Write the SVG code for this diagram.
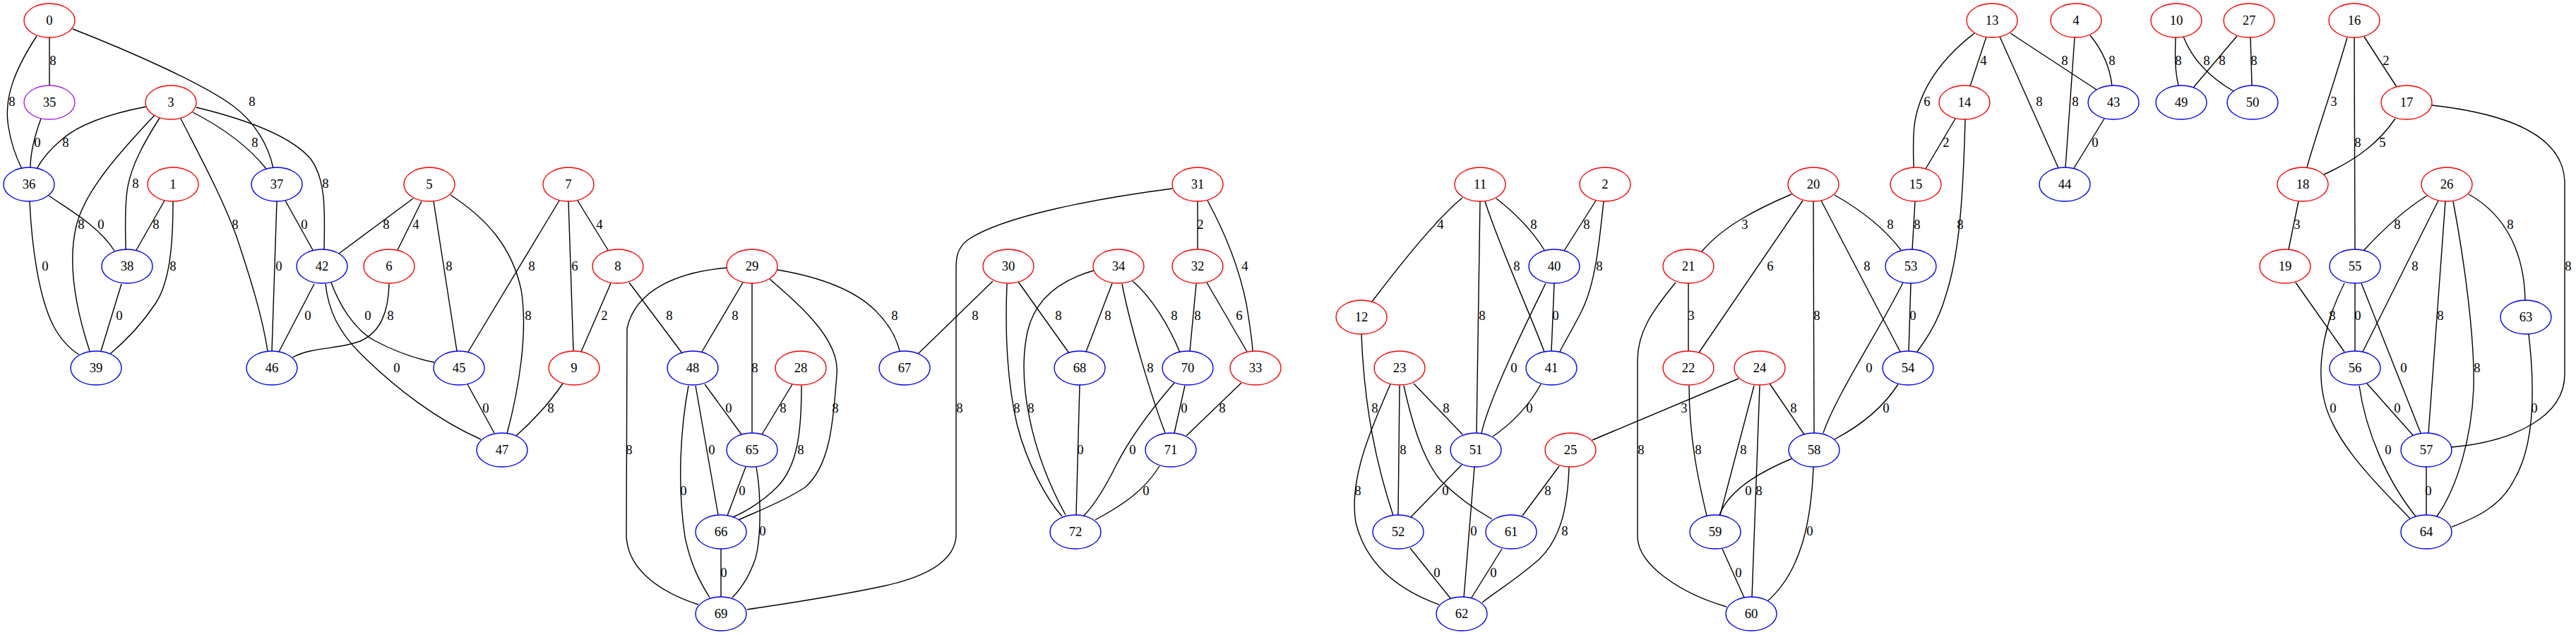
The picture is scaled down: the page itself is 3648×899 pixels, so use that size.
<svg xmlns="http://www.w3.org/2000/svg" width="3648" height="899" viewBox="0 0 3648 899">
<style>
.r{fill:none;stroke:#ff0000;stroke-width:1.4}
.b{fill:none;stroke:#0000ff;stroke-width:1.4}
.p{fill:none;stroke:#a020f0;stroke-width:1.4}
text{font-family:"Liberation Serif","Times New Roman",serif;font-size:18.67px;text-anchor:middle;fill:#000}
#edges path{fill:none;stroke:#000;stroke-width:1.4}
</style>
<rect width="3648" height="899" fill="#fff"/>
<g id="edges">
<path d="M70,53 L70,121"/>
<path d="M52,51 C20,100 5,140 12,180 C16,205 24,225 31,239"/>
<path d="M103,41 C190,75 290,120 330,150 C360,172 380,205 387,238"/>
<path d="M58,168 C50,190 43,215 43,237"/>
<path d="M207,151 C150,162 110,178 88,197 C70,212 58,228 52,239"/>
<path d="M219,163 C170,215 120,270 108,320 C96,370 105,430 127,497"/>
<path d="M226,167 C205,200 185,235 180,270 C176,300 178,330 178,354"/>
<path d="M256,168 C285,225 315,280 335,335 C355,395 372,450 379,497"/>
<path d="M273,159 C310,178 350,205 377,239"/>
<path d="M278,152 C340,167 410,190 440,225 C462,255 460,300 459,353"/>
<path d="M69,277 C95,295 140,320 162,355"/>
<path d="M42,285 C45,350 55,420 75,460 C85,480 100,495 112,502"/>
<path d="M233,284 L193,354"/>
<path d="M245,285 C245,350 240,400 220,430 C200,460 175,485 156,501"/>
<path d="M172,402 L143,497"/>
<path d="M392,285 L385,497"/>
<path d="M404,284 L443,354"/>
<path d="M585,281 L480,359"/>
<path d="M597,285 L563,354"/>
<path d="M445,402 L395,498"/>
<path d="M469,400 C480,430 500,465 530,482 C560,498 590,508 615,513"/>
<path d="M461,402 C465,440 480,470 510,500 C560,550 620,595 681,622"/>
<path d="M551,402 C550,440 540,470 510,483 C480,495 445,490 414,506"/>
<path d="M614,285 L647,497"/>
<path d="M638,276 C690,310 725,350 738,410 C748,470 735,550 718,614"/>
<path d="M792,284 L663,498"/>
<path d="M805,285 L812,497"/>
<path d="M818,284 L861,354"/>
<path d="M865,401 L823,498"/>
<path d="M891,400 L966,500"/>
<path d="M662,544 L700,613"/>
<path d="M797,543 C775,575 750,600 731,617"/>
<path d="M1052,400 L994,498"/>
<path d="M1065,401 L1065,613"/>
<path d="M1030,379 C960,385 900,410 888,465 L887,760 C890,810 940,840 989,856"/>
<path d="M1090,395 C1130,430 1190,480 1185,530 C1180,600 1175,660 1140,690 C1110,710 1070,725 1046,736"/>
<path d="M1101,382 C1160,392 1210,410 1240,440 C1260,460 1270,480 1274,497"/>
<path d="M998,544 L1050,615"/>
<path d="M985,546 L1017,729"/>
<path d="M975,546 C965,600 958,680 970,760 C978,800 992,825 1005,846"/>
<path d="M1122,544 L1079,615"/>
<path d="M1135,546 C1135,610 1130,660 1100,690 C1080,710 1055,725 1038,732"/>
<path d="M1056,661 L1030,730"/>
<path d="M1071,661 C1078,700 1078,760 1070,790 C1060,820 1045,838 1037,846"/>
<path d="M1021,777 L1021,845"/>
<path d="M1660,267 C1560,280 1420,305 1370,340 C1355,352 1354,365 1354,380 L1354,756 C1354,790 1320,815 1250,830 C1180,845 1110,855 1058,863"/>
<path d="M1696,285 L1696,353"/>
<path d="M1710,284 C1735,330 1755,380 1765,430 C1770,460 1773,480 1774,497"/>
<path d="M1406,398 L1300,501"/>
<path d="M1426,402 C1424,450 1424,530 1440,600 C1455,660 1485,710 1504,731"/>
<path d="M1442,399 L1514,500"/>
<path d="M1549,383 C1500,397 1465,425 1455,470 C1440,540 1460,640 1509,729"/>
<path d="M1575,401 L1538,498"/>
<path d="M1589,402 C1600,460 1630,560 1650,613"/>
<path d="M1604,398 C1630,420 1655,460 1671,499"/>
<path d="M1694,402 L1685,497"/>
<path d="M1709,400 L1766,498"/>
<path d="M1529,545 L1524,729"/>
<path d="M1678,546 L1663,613"/>
<path d="M1663,542 C1630,580 1600,620 1580,660 C1560,700 1545,720 1534,731"/>
<path d="M1758,542 L1680,617"/>
<path d="M1642,660 C1620,695 1590,715 1551,736"/>
<path d="M2071,280 C2040,305 1990,365 1943,427"/>
<path d="M2096,285 L2091,613"/>
<path d="M2103,285 C2120,340 2165,440 2187,498"/>
<path d="M2119,281 C2150,305 2172,330 2187,354"/>
<path d="M2260,284 L2215,355"/>
<path d="M2271,285 C2265,340 2260,400 2240,440 C2225,470 2215,485 2209,498"/>
<path d="M2201,401 L2197,497"/>
<path d="M2189,401 C2170,440 2110,560 2098,613"/>
<path d="M2182,544 C2165,575 2140,600 2114,618"/>
<path d="M1928,473 C1932,580 1950,660 1973,730"/>
<path d="M2002,543 L2071,615"/>
<path d="M1982,546 L1980,729"/>
<path d="M1988,546 C2000,600 2015,650 2040,680 C2065,705 2090,722 2113,735"/>
<path d="M1969,544 C1940,610 1910,680 1920,740 C1935,800 1980,835 2038,856"/>
<path d="M2070,658 L1998,732"/>
<path d="M2088,661 L2073,846"/>
<path d="M2208,660 L2156,730"/>
<path d="M2222,661 C2220,720 2210,770 2170,800 C2140,825 2115,840 2099,853"/>
<path d="M1997,776 L2054,847"/>
<path d="M2127,777 L2084,846"/>
<path d="M2462,536 L2255,623"/>
<path d="M2391,401 L2391,497"/>
<path d="M2373,400 C2340,440 2319,470 2319,510 L2319,759 C2319,800 2380,840 2445,859"/>
<path d="M2537,275 C2490,295 2440,320 2410,356"/>
<path d="M2553,284 L2406,499"/>
<path d="M2568,285 L2569,613"/>
<path d="M2579,284 L2691,498"/>
<path d="M2598,276 C2640,300 2670,325 2692,354"/>
<path d="M2392,546 C2392,620 2405,680 2417,730"/>
<path d="M2484,546 L2436,729"/>
<path d="M2492,546 L2481,846"/>
<path d="M2506,543 L2555,615"/>
<path d="M2706,401 L2703,497"/>
<path d="M2695,400 C2660,470 2600,560 2582,613"/>
<path d="M2688,544 C2665,580 2630,605 2598,622"/>
<path d="M2783,169 C2780,280 2775,360 2755,420 C2745,455 2728,480 2715,498"/>
<path d="M2538,649 C2500,665 2450,690 2435,729"/>
<path d="M2568,661 C2565,740 2550,810 2503,851"/>
<path d="M2439,777 L2470,846"/>
<path d="M2712,285 L2708,354"/>
<path d="M2769,168 L2727,239"/>
<path d="M2796,47 C2740,90 2712,140 2710,190 C2709,215 2710,228 2710,237"/>
<path d="M2813,52 L2790,122"/>
<path d="M2832,52 L2915,238"/>
<path d="M2847,47 L2969,127"/>
<path d="M2938,53 L2925,237"/>
<path d="M2960,50 C2978,72 2988,95 2991,122"/>
<path d="M2980,168 L2937,238"/>
<path d="M3081,53 C3080,80 3080,100 3085,121"/>
<path d="M3092,52 C3105,85 3130,110 3163,129"/>
<path d="M3168,51 L3106,124"/>
<path d="M3187,53 L3189,121"/>
<path d="M3324,53 C3305,120 3280,190 3267,237"/>
<path d="M3334,53 L3335,353"/>
<path d="M3348,52 L3394,123"/>
<path d="M3392,168 C3370,200 3340,225 3291,247"/>
<path d="M3444,149 C3560,162 3632,195 3632,260 L3632,530 C3632,590 3560,625 3472,633"/>
<path d="M3255,285 L3241,353"/>
<path d="M3251,400 L3320,498"/>
<path d="M3437,277 C3400,300 3370,330 3348,354"/>
<path d="M3453,284 L3346,498"/>
<path d="M3463,285 L3439,614"/>
<path d="M3474,285 C3490,370 3505,480 3503,550 C3500,620 3480,690 3451,731"/>
<path d="M3496,275 C3550,305 3575,360 3576,426"/>
<path d="M3335,401 L3335,497"/>
<path d="M3344,401 L3428,613"/>
<path d="M3320,401 C3295,450 3280,510 3290,560 C3300,620 3360,680 3413,734"/>
<path d="M3352,543 L3417,616"/>
<path d="M3341,546 C3350,610 3380,680 3421,731"/>
<path d="M3436,661 L3436,729"/>
<path d="M3581,473 C3590,550 3590,630 3560,680 C3540,720 3500,735 3472,746"/>
</g>
<g id="edge-labels">
<text x="75" y="92">8</text>
<text x="17" y="150">8</text>
<text x="357" y="150">8</text>
<text x="53" y="208">0</text>
<text x="93" y="208">8</text>
<text x="361" y="208">8</text>
<text x="192" y="266">8</text>
<text x="461" y="266">8</text>
<text x="115" y="324">8</text>
<text x="143" y="324">0</text>
<text x="221" y="324">8</text>
<text x="333" y="324">8</text>
<text x="431" y="324">0</text>
<text x="547" y="324">8</text>
<text x="589" y="324">4</text>
<text x="64" y="383">0</text>
<text x="245" y="383">8</text>
<text x="395" y="383">0</text>
<text x="169" y="453">0</text>
<text x="436" y="453">0</text>
<text x="521" y="453">0</text>
<text x="553" y="453">8</text>
<text x="562" y="527">0</text>
<text x="636" y="383">8</text>
<text x="748" y="453">8</text>
<text x="753" y="383">8</text>
<text x="814" y="383">6</text>
<text x="849" y="324">4</text>
<text x="856" y="453">2</text>
<text x="948" y="453">8</text>
<text x="688" y="584">0</text>
<text x="780" y="584">8</text>
<text x="1041" y="453">8</text>
<text x="1069" y="527">8</text>
<text x="891" y="643">8</text>
<text x="1183" y="584">8</text>
<text x="1267" y="453">8</text>
<text x="1032" y="584">0</text>
<text x="1008" y="643">0</text>
<text x="968" y="701">0</text>
<text x="1109" y="584">8</text>
<text x="1134" y="643">8</text>
<text x="1051" y="701">0</text>
<text x="1080" y="758">0</text>
<text x="1025" y="817">0</text>
<text x="1359" y="584">8</text>
<text x="1700" y="324">2</text>
<text x="1763" y="383">4</text>
<text x="1381" y="453">8</text>
<text x="1440" y="584">8</text>
<text x="1499" y="453">8</text>
<text x="1460" y="584">8</text>
<text x="1569" y="453">8</text>
<text x="1629" y="527">8</text>
<text x="1663" y="453">8</text>
<text x="1696" y="453">8</text>
<text x="1755" y="453">6</text>
<text x="1530" y="643">0</text>
<text x="1677" y="584">0</text>
<text x="1604" y="643">0</text>
<text x="1731" y="584">8</text>
<text x="1623" y="701">0</text>
<text x="2040" y="324">4</text>
<text x="2099" y="453">8</text>
<text x="2148" y="383">8</text>
<text x="2172" y="324">8</text>
<text x="2247" y="324">8</text>
<text x="2265" y="383">8</text>
<text x="2203" y="453">0</text>
<text x="2144" y="527">0</text>
<text x="2166" y="584">0</text>
<text x="1947" y="584">8</text>
<text x="2048" y="584">8</text>
<text x="1987" y="643">8</text>
<text x="2037" y="643">8</text>
<text x="1923" y="701">8</text>
<text x="2047" y="701">0</text>
<text x="2087" y="758">0</text>
<text x="2192" y="701">8</text>
<text x="2216" y="758">8</text>
<text x="2035" y="817">0</text>
<text x="2115" y="817">0</text>
<text x="2385" y="584">3</text>
<text x="2395" y="453">3</text>
<text x="2324" y="643">8</text>
<text x="2471" y="324">3</text>
<text x="2507" y="383">6</text>
<text x="2573" y="453">8</text>
<text x="2644" y="383">8</text>
<text x="2677" y="324">8</text>
<text x="2405" y="643">8</text>
<text x="2469" y="643">8</text>
<text x="2491" y="701">8</text>
<text x="2540" y="584">8</text>
<text x="2709" y="453">0</text>
<text x="2647" y="527">0</text>
<text x="2671" y="584">0</text>
<text x="2776" y="324">8</text>
<text x="2476" y="701">0</text>
<text x="2563" y="758">0</text>
<text x="2462" y="817">0</text>
<text x="2715" y="324">8</text>
<text x="2756" y="208">2</text>
<text x="2729" y="150">6</text>
<text x="2809" y="92">4</text>
<text x="2888" y="150">8</text>
<text x="2924" y="92">8</text>
<text x="2939" y="150">8</text>
<text x="2991" y="92">8</text>
<text x="2967" y="208">0</text>
<text x="3085" y="92">8</text>
<text x="3125" y="92">8</text>
<text x="3147" y="92">8</text>
<text x="3192" y="92">8</text>
<text x="3305" y="150">3</text>
<text x="3339" y="208">8</text>
<text x="3379" y="92">2</text>
<text x="3374" y="208">5</text>
<text x="3637" y="383">8</text>
<text x="3253" y="324">3</text>
<text x="3303" y="453">8</text>
<text x="3395" y="324">8</text>
<text x="3420" y="383">8</text>
<text x="3456" y="453">8</text>
<text x="3508" y="527">8</text>
<text x="3555" y="324">8</text>
<text x="3339" y="453">0</text>
<text x="3404" y="527">0</text>
<text x="3304" y="584">0</text>
<text x="3395" y="584">0</text>
<text x="3382" y="643">0</text>
<text x="3439" y="701">0</text>
<text x="3589" y="584">0</text>
</g>
<g id="nodes">
<g id="n0"><ellipse class="r" cx="70" cy="29" rx="36" ry="24"/><text x="70" y="35">0</text></g>
<g id="n35"><ellipse class="p" cx="70" cy="145" rx="36" ry="24"/><text x="70" y="151">35</text></g>
<g id="n3"><ellipse class="r" cx="242" cy="145" rx="36" ry="24"/><text x="242" y="151">3</text></g>
<g id="n36"><ellipse class="b" cx="41" cy="261" rx="36" ry="24"/><text x="41" y="267">36</text></g>
<g id="n1"><ellipse class="r" cx="245" cy="261" rx="36" ry="24"/><text x="245" y="267">1</text></g>
<g id="n37"><ellipse class="b" cx="392" cy="261" rx="36" ry="24"/><text x="392" y="267">37</text></g>
<g id="n5"><ellipse class="r" cx="608" cy="261" rx="36" ry="24"/><text x="608" y="267">5</text></g>
<g id="n38"><ellipse class="b" cx="180" cy="377" rx="36" ry="24"/><text x="180" y="383">38</text></g>
<g id="n42"><ellipse class="b" cx="456" cy="377" rx="36" ry="24"/><text x="456" y="383">42</text></g>
<g id="n6"><ellipse class="r" cx="551" cy="377" rx="36" ry="24"/><text x="551" y="383">6</text></g>
<g id="n39"><ellipse class="b" cx="136" cy="521" rx="36" ry="24"/><text x="136" y="527">39</text></g>
<g id="n46"><ellipse class="b" cx="385" cy="521" rx="36" ry="24"/><text x="385" y="527">46</text></g>
<g id="n7"><ellipse class="r" cx="805" cy="261" rx="36" ry="24"/><text x="805" y="267">7</text></g>
<g id="n8"><ellipse class="r" cx="875" cy="377" rx="36" ry="24"/><text x="875" y="383">8</text></g>
<g id="n29"><ellipse class="r" cx="1065" cy="377" rx="36" ry="24"/><text x="1065" y="383">29</text></g>
<g id="n45"><ellipse class="b" cx="650" cy="521" rx="36" ry="24"/><text x="650" y="527">45</text></g>
<g id="n9"><ellipse class="r" cx="813" cy="521" rx="36" ry="24"/><text x="813" y="527">9</text></g>
<g id="n47"><ellipse class="b" cx="711" cy="637" rx="36" ry="24"/><text x="711" y="643">47</text></g>
<g id="n48"><ellipse class="b" cx="981" cy="521" rx="36" ry="24"/><text x="981" y="527">48</text></g>
<g id="n28"><ellipse class="r" cx="1134" cy="521" rx="36" ry="24"/><text x="1134" y="527">28</text></g>
<g id="n65"><ellipse class="b" cx="1065" cy="637" rx="36" ry="24"/><text x="1065" y="643">65</text></g>
<g id="n66"><ellipse class="b" cx="1021" cy="753" rx="36" ry="24"/><text x="1021" y="759">66</text></g>
<g id="n69"><ellipse class="b" cx="1021" cy="869" rx="36" ry="24"/><text x="1021" y="875">69</text></g>
<g id="n31"><ellipse class="r" cx="1696" cy="261" rx="36" ry="24"/><text x="1696" y="267">31</text></g>
<g id="n30"><ellipse class="r" cx="1428" cy="377" rx="36" ry="24"/><text x="1428" y="383">30</text></g>
<g id="n34"><ellipse class="r" cx="1584" cy="377" rx="36" ry="24"/><text x="1584" y="383">34</text></g>
<g id="n32"><ellipse class="r" cx="1696" cy="377" rx="36" ry="24"/><text x="1696" y="383">32</text></g>
<g id="n67"><ellipse class="b" cx="1281" cy="521" rx="36" ry="24"/><text x="1281" y="527">67</text></g>
<g id="n68"><ellipse class="b" cx="1529" cy="521" rx="36" ry="24"/><text x="1529" y="527">68</text></g>
<g id="n70"><ellipse class="b" cx="1682" cy="521" rx="36" ry="24"/><text x="1682" y="527">70</text></g>
<g id="n33"><ellipse class="r" cx="1778" cy="521" rx="36" ry="24"/><text x="1778" y="527">33</text></g>
<g id="n71"><ellipse class="b" cx="1658" cy="637" rx="36" ry="24"/><text x="1658" y="643">71</text></g>
<g id="n72"><ellipse class="b" cx="1523" cy="753" rx="36" ry="24"/><text x="1523" y="759">72</text></g>
<g id="n11"><ellipse class="r" cx="2096" cy="261" rx="36" ry="24"/><text x="2096" y="267">11</text></g>
<g id="n2"><ellipse class="r" cx="2273" cy="261" rx="36" ry="24"/><text x="2273" y="267">2</text></g>
<g id="n40"><ellipse class="b" cx="2201" cy="377" rx="36" ry="24"/><text x="2201" y="383">40</text></g>
<g id="n21"><ellipse class="r" cx="2391" cy="377" rx="36" ry="24"/><text x="2391" y="383">21</text></g>
<g id="n12"><ellipse class="r" cx="1928" cy="449" rx="36" ry="24"/><text x="1928" y="455">12</text></g>
<g id="n23"><ellipse class="r" cx="1982" cy="521" rx="36" ry="24"/><text x="1982" y="527">23</text></g>
<g id="n41"><ellipse class="b" cx="2197" cy="521" rx="36" ry="24"/><text x="2197" y="527">41</text></g>
<g id="n22"><ellipse class="r" cx="2391" cy="521" rx="36" ry="24"/><text x="2391" y="527">22</text></g>
<g id="n51"><ellipse class="b" cx="2090" cy="637" rx="36" ry="24"/><text x="2090" y="643">51</text></g>
<g id="n25"><ellipse class="r" cx="2224" cy="637" rx="36" ry="24"/><text x="2224" y="643">25</text></g>
<g id="n52"><ellipse class="b" cx="1980" cy="753" rx="36" ry="24"/><text x="1980" y="759">52</text></g>
<g id="n61"><ellipse class="b" cx="2140" cy="753" rx="36" ry="24"/><text x="2140" y="759">61</text></g>
<g id="n62"><ellipse class="b" cx="2070" cy="869" rx="36" ry="24"/><text x="2070" y="875">62</text></g>
<g id="n13"><ellipse class="r" cx="2821" cy="29" rx="36" ry="24"/><text x="2821" y="35">13</text></g>
<g id="n4"><ellipse class="r" cx="2940" cy="29" rx="36" ry="24"/><text x="2940" y="35">4</text></g>
<g id="n14"><ellipse class="r" cx="2782" cy="145" rx="36" ry="24"/><text x="2782" y="151">14</text></g>
<g id="n43"><ellipse class="b" cx="2993" cy="145" rx="36" ry="24"/><text x="2993" y="151">43</text></g>
<g id="n20"><ellipse class="r" cx="2568" cy="261" rx="36" ry="24"/><text x="2568" y="267">20</text></g>
<g id="n15"><ellipse class="r" cx="2713" cy="261" rx="36" ry="24"/><text x="2713" y="267">15</text></g>
<g id="n44"><ellipse class="b" cx="2924" cy="261" rx="36" ry="24"/><text x="2924" y="267">44</text></g>
<g id="n53"><ellipse class="b" cx="2706" cy="377" rx="36" ry="24"/><text x="2706" y="383">53</text></g>
<g id="n24"><ellipse class="r" cx="2492" cy="521" rx="36" ry="24"/><text x="2492" y="527">24</text></g>
<g id="n54"><ellipse class="b" cx="2702" cy="521" rx="36" ry="24"/><text x="2702" y="527">54</text></g>
<g id="n58"><ellipse class="b" cx="2569" cy="637" rx="36" ry="24"/><text x="2569" y="643">58</text></g>
<g id="n59"><ellipse class="b" cx="2429" cy="753" rx="36" ry="24"/><text x="2429" y="759">59</text></g>
<g id="n60"><ellipse class="b" cx="2480" cy="869" rx="36" ry="24"/><text x="2480" y="875">60</text></g>
<g id="n10"><ellipse class="r" cx="3082" cy="29" rx="36" ry="24"/><text x="3082" y="35">10</text></g>
<g id="n27"><ellipse class="r" cx="3185" cy="29" rx="36" ry="24"/><text x="3185" y="35">27</text></g>
<g id="n16"><ellipse class="r" cx="3334" cy="29" rx="36" ry="24"/><text x="3334" y="35">16</text></g>
<g id="n49"><ellipse class="b" cx="3089" cy="145" rx="36" ry="24"/><text x="3089" y="151">49</text></g>
<g id="n50"><ellipse class="b" cx="3190" cy="145" rx="36" ry="24"/><text x="3190" y="151">50</text></g>
<g id="n17"><ellipse class="r" cx="3408" cy="145" rx="36" ry="24"/><text x="3408" y="151">17</text></g>
<g id="n18"><ellipse class="r" cx="3261" cy="261" rx="36" ry="24"/><text x="3261" y="267">18</text></g>
<g id="n26"><ellipse class="r" cx="3465" cy="261" rx="36" ry="24"/><text x="3465" y="267">26</text></g>
<g id="n19"><ellipse class="r" cx="3236" cy="377" rx="36" ry="24"/><text x="3236" y="383">19</text></g>
<g id="n55"><ellipse class="b" cx="3335" cy="377" rx="36" ry="24"/><text x="3335" y="383">55</text></g>
<g id="n63"><ellipse class="b" cx="3577" cy="449" rx="36" ry="24"/><text x="3577" y="455">63</text></g>
<g id="n56"><ellipse class="b" cx="3335" cy="521" rx="36" ry="24"/><text x="3335" y="527">56</text></g>
<g id="n57"><ellipse class="b" cx="3436" cy="637" rx="36" ry="24"/><text x="3436" y="643">57</text></g>
<g id="n64"><ellipse class="b" cx="3436" cy="753" rx="36" ry="24"/><text x="3436" y="759">64</text></g>
</g>
</svg>
